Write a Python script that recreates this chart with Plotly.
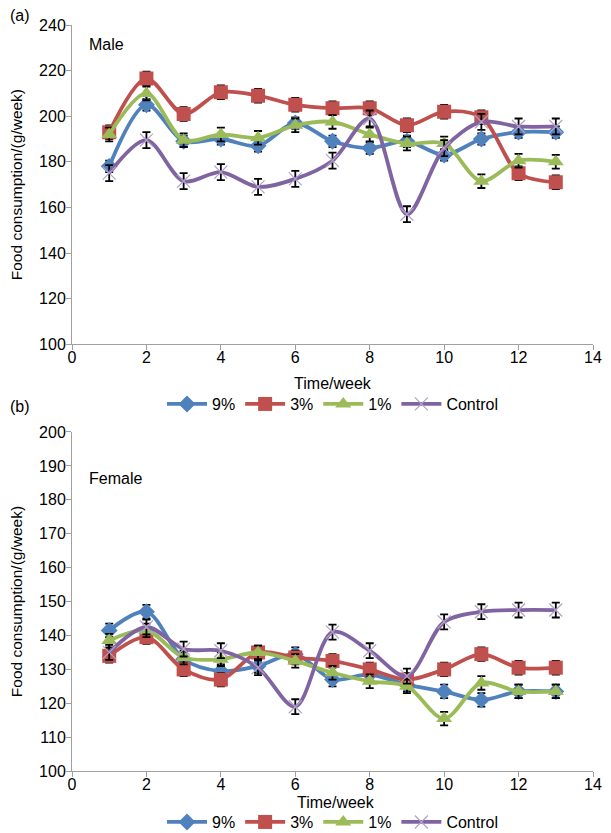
import plotly.graph_objects as go

weeks = [1, 2, 3, 4, 5, 6, 7, 8, 9, 10, 11, 12, 13]
series_names = ["9%", "3%", "1%", "Control"]

male_9 = [178, 205, 189, 190, 187, 197, 189, 186, 189, 183, 190, 193, 193]
male_3 = [193, 216.5, 201, 210.5, 209, 205, 203.5, 203.5, 196, 202, 199.5, 175, 171]
male_1 = [192, 210, 189.5, 192, 190.5, 196, 197.5, 192, 188, 188, 171.5, 180.5, 180]
male_ctrl = [175, 189.5, 171.5, 175.5, 169, 172.5, 180.5, 199, 157, 186, 197.5, 195.5, 195.5]

male_err_9 = [2.5, 2.5, 2.5, 2.5, 2.5, 2.5, 2.5, 2.5, 2.5, 2.5, 2.5, 2.5, 2.5]
male_err_3 = [3, 3, 3, 3, 3, 3, 3, 3, 3, 3, 3, 3, 3]
male_err_1 = [3, 3, 3, 3, 3, 3, 3, 3, 3, 3, 3, 3, 3]
male_err_ctrl = [3.5, 3.5, 3.5, 3.5, 3.5, 3.5, 3.5, 3.5, 3.5, 3.5, 3.5, 3.5, 3.5]

female_9 = [141.5, 147, 133, 129.5, 131, 134.5, 127, 128.5, 125.5, 123.5, 121, 123.5, 123.5]
female_3 = [134, 139.5, 130, 127, 135, 133.5, 132.5, 130, 127, 130, 134.5, 130.5, 130.5]
female_1 = [138.5, 141.5, 133.5, 133, 135, 132.5, 129, 126.5, 125, 115.5, 126, 123.5, 123.5]
female_ctrl = [135, 142.5, 136, 135.5, 130.5, 119, 141, 135.5, 128, 144, 147, 147.5, 147.5]

female_err_9 = [2, 2, 2, 2, 2, 2, 2, 2, 2, 2, 2, 2, 2]
female_err_3 = [2, 2, 2, 2, 2, 2, 2, 2, 2, 2, 2, 2, 2]
female_err_1 = [2, 2, 2, 2, 2, 2, 2, 2, 2, 2, 2, 2, 2]
female_err_ctrl = [2.2, 2.2, 2.2, 2.2, 2.2, 2.2, 2.2, 2.2, 2.2, 2.2, 2.2, 2.2, 2.2]

x_ticks = [0, 2, 4, 6, 8, 10, 12, 14]
male_y_ticks = [100, 120, 140, 160, 180, 200, 220, 240]
female_y_ticks = [100, 110, 120, 130, 140, 150, 160, 170, 180, 190, 200]

colors = ["#4F81BD", "#C0504D", "#9BBB59", "#8064A2"]
markers = [
    dict(symbol="diamond", size=13),
    dict(symbol="square", size=14),
    dict(symbol="triangle-up", size=14),
    dict(symbol="x-thin", size=13, line=dict(width=1.2, color="#B3A2C7")),
]

FONT = "Liberation Sans, Arial, Helvetica, sans-serif"
fig = go.Figure()

panels = [
    ("x", "y", "legend", [male_9, male_3, male_1, male_ctrl],
     [male_err_9, male_err_3, male_err_1, male_err_ctrl]),
    ("x2", "y2", "legend2", [female_9, female_3, female_1, female_ctrl],
     [female_err_9, female_err_3, female_err_1, female_err_ctrl]),
]
for xa, ya, lg, vals, errs in panels:
    for name, v, e, c, m in zip(series_names, vals, errs, colors, markers):
        mk = dict(m)
        mk["color"] = c if m["symbol"] != "x-thin" else "#B3A2C7"
        fig.add_trace(go.Scatter(
            x=weeks, y=v, name=name, mode="lines+markers",
            xaxis=xa, yaxis=ya, legend=lg,
            line=dict(color=c, width=3.8, shape="spline", smoothing=0.9),
            marker=mk,
            error_y=dict(type="data", array=e, visible=True, color="black",
                         thickness=1.8, width=4),
        ))

axis_common = dict(showline=True, linecolor="#A0A0A0", linewidth=1,
                   ticks="outside", tickcolor="#A0A0A0", ticklen=5,
                   showgrid=False, zeroline=False, automargin=False,
                   tickfont=dict(size=16, color="black", family=FONT))
x_common = dict(axis_common, ticklabelstandoff=-6)
y_common = dict(axis_common, ticklabelstandoff=-3)

# the page adds an 8px body margin; layout below is compensated for it
fig.update_layout(
    width=611, height=833,
    margin=dict(l=64, r=26, t=17, b=2),
    paper_bgcolor="white", plot_bgcolor="white",
    font=dict(family=FONT, size=16, color="black"),
    showlegend=True,
    xaxis=dict(domain=[0, 1], range=[0, 14], tickvals=x_ticks, anchor="y",
               title=dict(text="Time/week", standoff=12, font=dict(size=16)), **x_common),
    yaxis=dict(domain=[0.6069, 1], range=[100, 240], tickvals=male_y_ticks, anchor="x",
               title=dict(text="Food consumption/(g/week)", standoff=13, font=dict(size=15.5)),
               **y_common),
    xaxis2=dict(domain=[0, 1], range=[0, 14], tickvals=x_ticks, anchor="y2",
                **x_common),
    yaxis2=dict(domain=[0.0811, 0.4988], range=[100, 200], tickvals=female_y_ticks, anchor="x2",
                title=dict(text="Food consumption/(g/week)", standoff=13, font=dict(size=15.5)),
                **y_common),
    legend=dict(orientation="h", x=0.5, xanchor="center", y=0.5332, yanchor="middle",
                itemwidth=40, font=dict(size=16), bgcolor="rgba(0,0,0,0)",
                tracegroupgap=0),
    legend2=dict(orientation="h", x=0.5, xanchor="center", y=0.0184, yanchor="middle",
                 itemwidth=40, font=dict(size=16), bgcolor="rgba(0,0,0,0)",
                 tracegroupgap=0),
    annotations=[
        dict(text="(a)", xref="paper", yref="paper", x=-0.123, y=1.0123,
             xanchor="left", yanchor="middle", showarrow=False, font=dict(size=16)),
        dict(text="Male", xref="paper", yref="paper", x=0.0288, y=0.9754,
             xanchor="left", yanchor="middle", showarrow=False, font=dict(size=16)),
        dict(text="(b)", xref="paper", yref="paper", x=-0.123, y=0.5307,
             xanchor="left", yanchor="middle", showarrow=False, font=dict(size=16)),
        dict(text="Female", xref="paper", yref="paper", x=0.0288, y=0.441,
             xanchor="left", yanchor="middle", showarrow=False, font=dict(size=16)),
        dict(text="Time/week", xref="paper", yref="paper", x=0.507, y=0.042,
             xanchor="center", yanchor="middle", showarrow=False, font=dict(size=16)),
    ],
)

fig.write_html("out.html")
